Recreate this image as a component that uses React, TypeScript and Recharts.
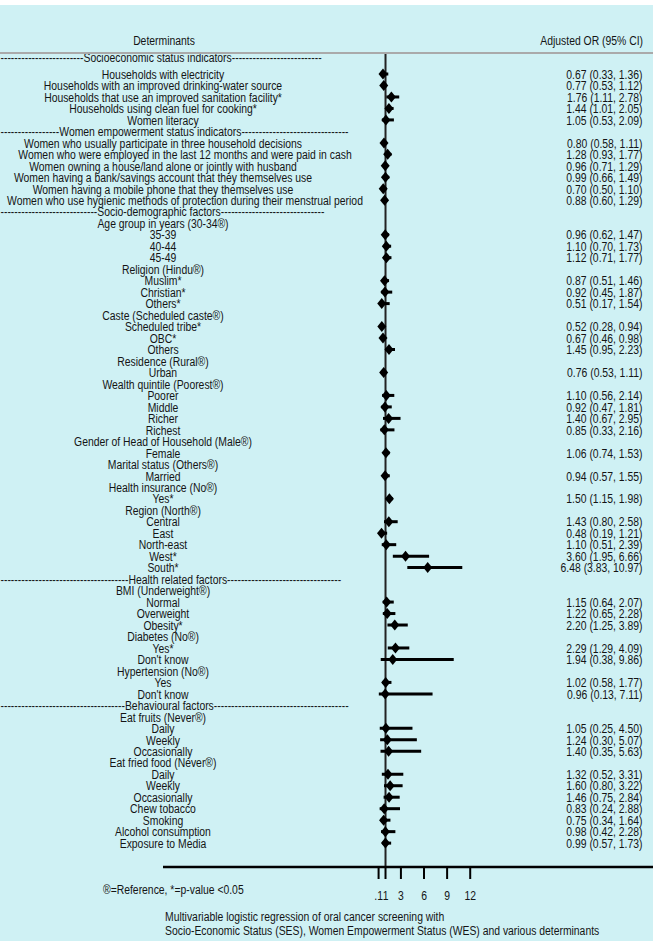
import React from 'react';
import { ScatterChart, Scatter, XAxis, YAxis, ErrorBar, ReferenceLine } from 'recharts';

// row labels, top to bottom (section rows carry the dashes of the original)
const labels = [
  '------------------------Socioeconomic status indicators--------------------------',
  'Households with electricity',
  'Households with an improved drinking-water source',
  'Households that use an improved sanitation facility*',
  'Households using clean fuel for cooking*',
  'Women literacy',
  '-----------------Women empowerment status indicators-------------------------------',
  'Women who usually participate in three household decisions',
  'Women who were employed in the last 12 months and were paid in cash',
  'Women owning a house/land alone or jointly with husband',
  'Women having a bank/savings account that they themselves use',
  'Women having a mobile phone that they themselves use',
  'Women who use hygienic methods of protection during their menstrual period',
  '----------------------------Socio-demographic factors------------------------------',
  'Age group in years (30-34®)',
  '35-39',
  '40-44',
  '45-49',
  'Religion (Hindu®)',
  'Muslim*',
  'Christian*',
  'Others*',
  'Caste (Scheduled caste®)',
  'Scheduled tribe*',
  'OBC*',
  'Others',
  'Residence (Rural®)',
  'Urban',
  'Wealth quintile (Poorest®)',
  'Poorer',
  'Middle',
  'Richer',
  'Richest',
  'Gender of Head of Household (Male®)',
  'Female',
  'Marital status (Others®)',
  'Married',
  'Health insurance (No®)',
  'Yes*',
  'Region (North®)',
  'Central',
  'East',
  'North-east',
  'West*',
  'South*',
  '-------------------------------------Health related factors---------------------------------',
  'BMI (Underweight®)',
  'Normal',
  'Overweight',
  'Obesity*',
  'Diabetes (No®)',
  'Yes*',
  "Don't know",
  'Hypertension (No®)',
  'Yes',
  "Don't know",
  '------------------------------------Behavioural factors---------------------------------------',
  'Eat fruits (Never®)',
  'Daily',
  'Weekly',
  'Occasionally',
  'Eat fried food (Never®)',
  'Daily',
  'Weekly',
  'Occasionally',
  'Chew tobacco',
  'Smoking',
  'Alcohol consumption',
  'Exposure to Media',
];

const oddsRatio: (number | null)[] = [
  null, 0.67, 0.77, 1.76, 1.44, 1.05,
  null, 0.8, 1.28, 0.96, 0.99, 0.7, 0.88,
  null, null, 0.96, 1.1, 1.12,
  null, 0.87, 0.92, 0.51,
  null, 0.52, 0.67, 1.45,
  null, 0.76,
  null, 1.1, 0.92, 1.4, 0.85,
  null, 1.06,
  null, 0.94,
  null, 1.5,
  null, 1.43, 0.48, 1.1, 3.6, 6.48,
  null, null, 1.15, 1.22, 2.2,
  null, 2.29, 1.94,
  null, 1.02, 0.96,
  null, null, 1.05, 1.24, 1.4,
  null, 1.32, 1.6, 1.46,
  0.83, 0.75, 0.98, 0.99,
];

const lower: (number | null)[] = [
  null, 0.33, 0.53, 1.11, 1.01, 0.53,
  null, 0.58, 0.93, 0.71, 0.66, 0.5, 0.6,
  null, null, 0.62, 0.7, 0.71,
  null, 0.51, 0.45, 0.17,
  null, 0.28, 0.46, 0.95,
  null, 0.53,
  null, 0.56, 0.47, 0.67, 0.33,
  null, 0.74,
  null, 0.57,
  null, 1.15,
  null, 0.8, 0.19, 0.51, 1.95, 3.83,
  null, null, 0.64, 0.65, 1.25,
  null, 1.29, 0.38,
  null, 0.58, 0.13,
  null, null, 0.25, 0.3, 0.35,
  null, 0.52, 0.8, 0.75,
  0.24, 0.34, 0.42, 0.57,
];

const upper: (number | null)[] = [
  null, 1.36, 1.12, 2.78, 2.05, 2.09,
  null, 1.11, 1.77, 1.29, 1.49, 1.1, 1.29,
  null, null, 1.47, 1.73, 1.77,
  null, 1.46, 1.87, 1.54,
  null, 0.94, 0.98, 2.23,
  null, 1.11,
  null, 2.14, 1.81, 2.95, 2.16,
  null, 1.53,
  null, 1.55,
  null, 1.98,
  null, 2.58, 1.21, 2.39, 6.66, 10.97,
  null, null, 2.07, 2.28, 3.89,
  null, 4.09, 9.86,
  null, 1.77, 7.11,
  null, null, 4.5, 5.07, 5.63,
  null, 3.31, 3.22, 2.84,
  2.88, 1.64, 2.28, 1.73,
];

const axisTicks = [0.1, 1, 3, 6, 9, 12];

// first section title sits half a row above the first entry
const rowPos = labels.map((_, i) => (i === 0 ? -1.5 : i - 1));

const points = labels
  .map((_, i) => ({
    row: rowPos[i],
    or: oddsRatio[i],
    err: oddsRatio[i] == null ? null : [oddsRatio[i]! - lower[i]!, upper[i]! - oddsRatio[i]!],
  }))
  .filter((p) => p.or != null);

const FONT = '"Liberation Sans", Arial, sans-serif';
const INK = '#141414';

// the original uses a tall, narrow face: squeeze a normal sans sideways
const Txt = ({ x, y, anchor = 'middle', children }: any) => (
  <text
    transform={`translate(${x},${y}) scale(0.77,1)`}
    textAnchor={anchor}
    dy="0.35em"
    fontFamily={FONT}
    fontSize={13.5}
    fill={INK}
  >
    {children}
  </text>
);

const fmt = (v: number) => v.toFixed(2);

const RowTick = (props: any) => {
  const { y, payload } = props;
  const i = rowPos.indexOf(payload.value);
  if (i < 0) return null;
  const label = labels[i];
  const isSection = label.startsWith('-');
  const or = oddsRatio[i];
  return (
    <g>
      {isSection ? (
        <Txt x={0.5} y={y} anchor="start">{label}</Txt>
      ) : (
        <Txt x={label.length > 62 ? 185 : 163} y={y}>{label}</Txt>
      )}
      {or != null && (
        <Txt x={642.5} y={y} anchor="end">
          {`${fmt(or)} (${fmt(lower[i]!)}, ${fmt(upper[i]!)})`}
        </Txt>
      )}
    </g>
  );
};

const AxisTick = (props: any) => {
  const { x, y, payload } = props;
  const v = payload.value;
  return <Txt x={x} y={y + 16}>{v < 1 ? String(v).replace(/^0/, '') : String(v)}</Txt>;
};

const Diamond = (props: any) => {
  const { cx, cy } = props;
  return <path d={`M${cx},${cy - 5.5}L${cx + 4.5},${cy}L${cx},${cy + 5.5}L${cx - 4.5},${cy}Z`} fill="#000" />;
};

const App = () => (
  <div style={{ position: 'absolute', left: 0, top: 0, width: 658, height: 944, background: '#fff' }}>
    <div style={{ position: 'absolute', left: 0, top: 5, width: 653, height: 936, background: '#cff1f4' }} />
    <div style={{ position: 'absolute', left: 0, top: 0 }}>
      <ScatterChart width={658} height={944} margin={{ top: 53, right: 5, bottom: 37, left: 0 }}>
        <XAxis
          type="number"
          dataKey="or"
          domain={[-27.9, 35.74]}
          allowDataOverflow
          ticks={axisTicks}
          interval={0}
          height={40}
          tickSize={12}
          tickMargin={0}
          axisLine={{ stroke: '#000', strokeWidth: 2.5 }}
          tickLine={{ stroke: '#000', strokeWidth: 2 }}
          tick={(p: any) => <AxisTick {...p} />}
        />
        <YAxis
          type="number"
          dataKey="row"
          domain={[-1.83, 69.08]}
          reversed
          allowDataOverflow
          ticks={rowPos}
          interval={0}
          width={163}
          axisLine={false}
          tickLine={false}
          tick={(p: any) => <RowTick {...p} />}
        />
        <ReferenceLine x={1} stroke="#222" strokeWidth={2} />
        <Scatter data={points} shape={(p: any) => <Diamond {...p} />} isAnimationActive={false}>
          <ErrorBar dataKey="err" direction="x" width={0} stroke="#000" strokeWidth={3} isAnimationActive={false} />
        </Scatter>
      </ScatterChart>
    </div>
    <svg width={658} height={944} style={{ position: 'absolute', left: 0, top: 0, pointerEvents: 'none' }}>
      <line x1={0} x2={653} y1={53} y2={53} stroke="#aaaaaa" strokeWidth={2} />
      <Txt x={164} y={40}>Determinants</Txt>
      <Txt x={643} y={40} anchor="end">Adjusted OR (95% CI)</Txt>
      <Txt x={103} y={889} anchor="start">®=Reference, *=p-value &lt;0.05</Txt>
      <Txt x={165} y={916} anchor="start">Multivariable logistic regression of oral cancer screening with</Txt>
      <Txt x={165} y={930} anchor="start">
        Socio-Economic Status (SES), Women Empowerment Status (WES) and various determinants
      </Txt>
    </svg>
  </div>
);

export default App;
